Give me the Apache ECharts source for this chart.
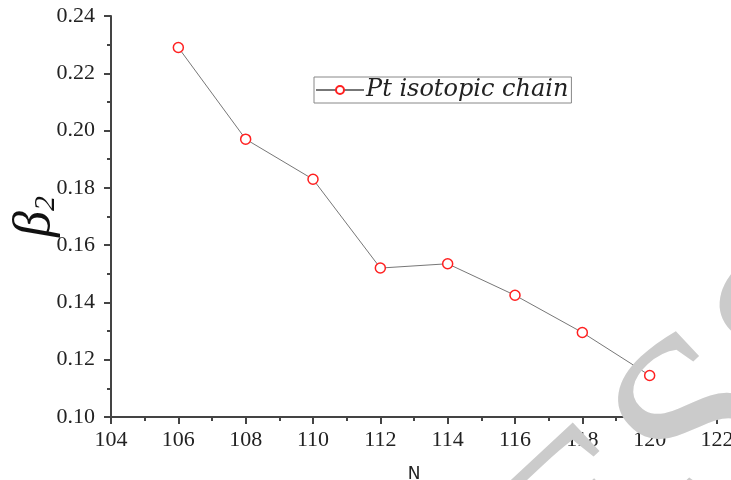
<!DOCTYPE html>
<html>
<head>
<meta charset="utf-8">
<script src="https://cdn.jsdelivr.net/npm/echarts@6/dist/echarts.min.js"></script>
<style>html,body{margin:0;padding:0;background:#fff}#c{width:731px;height:480px}</style>
</head>
<body>
<div id="c"></div>
<script>
const neutronNumbers = [106, 108, 110, 112, 114, 116, 118, 120];
const beta2Values = [0.229, 0.197, 0.183, 0.152, 0.1535, 0.1425, 0.1295, 0.1145];
const seriesName = 'Pt isotopic chain';

const chart = echarts.init(document.getElementById('c'), null, {renderer: 'canvas'});
const serif = 'Liberation Serif, Times New Roman, serif';
chart.setOption({
  backgroundColor: '#fff',
  animation: false,
  grid: {left: 111, right: 14, top: 16, bottom: 63, outerBoundsMode: 'none', containLabel: false},
  legend: {
    left: 314, top: 77,
    padding: [0, 3, 0, 1],
    itemGap: 0,
    itemWidth: 48, itemHeight: 10,
    borderColor: '#888', borderWidth: 1,
    textStyle: {fontFamily: 'DejaVu Serif, serif', fontStyle: 'italic', fontSize: 24, lineHeight: 26, color: '#222', padding: [0,0,0,-3]},
    data: [seriesName]
  },
  graphic: [{
    type: 'text', x: 702, y: 436, rotation: 0.75, z: 100, silent: true,
    style: {text: 'ESS', font: '250px Liberation Serif', fill: '#cbcbcb', align: 'center', verticalAlign: 'middle'}
  }],
  xAxis: {
    type: 'value', min: 104, max: 122, interval: 2,
    name: 'N', nameLocation: 'middle', nameGap: 49,
    nameTextStyle: {fontFamily: 'DejaVu Sans, sans-serif', fontSize: 17, color: '#222'},
    axisLine: {show: true, lineStyle: {color: '#444', width: 2}},
    axisTick: {show: true, inside: false, length: 7, lineStyle: {color: '#444', width: 2}},
    minorTick: {show: true, splitNumber: 2, length: 4, lineStyle: {color: '#444', width: 2}},
    axisLabel: {fontFamily: serif, fontSize: 22, color: '#222', margin: 12},
    splitLine: {show: false}
  },
  yAxis: {
    type: 'value', min: 0.10, max: 0.24, interval: 0.02,
    name: '{b|β}{s|2}', nameLocation: 'middle', nameGap: 50, nameRotate: 90,
    nameMoveOverlap: false,
    nameTextStyle: {
      rich: {
        b: {fontFamily: serif, fontStyle: 'italic', fontSize: 52, color: '#111'},
        s: {fontFamily: serif, fontStyle: 'italic', fontSize: 30, color: '#111', verticalAlign: 'bottom'}
      }
    },
    axisLine: {show: true, onZero: false, lineStyle: {color: '#444', width: 2}},
    axisTick: {show: true, inside: false, length: 7, lineStyle: {color: '#444', width: 2}},
    minorTick: {show: true, splitNumber: 2, length: 4, lineStyle: {color: '#444', width: 2}},
    axisLabel: {fontFamily: serif, fontSize: 22, color: '#222', margin: 16, formatter: v => v.toFixed(2)},
    splitLine: {show: false}
  },
  series: [{
    name: seriesName,
    type: 'line',
    data: neutronNumbers.map((n, i) => [n, beta2Values[i]]),
    symbol: 'circle', symbolSize: 10,
    itemStyle: {color: '#fff', borderColor: '#ff2020', borderWidth: 1.5},
    lineStyle: {color: '#777', width: 1}
  }]
});
</script>
</body>
</html>
